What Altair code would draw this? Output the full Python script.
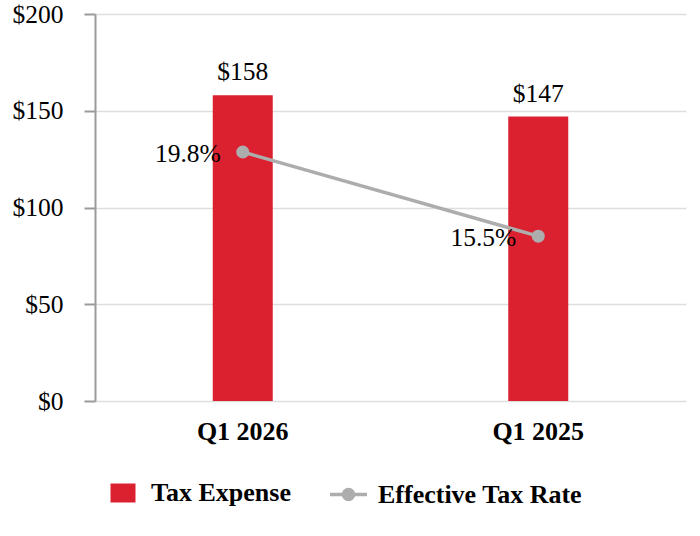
import altair as alt
import pandas as pd

quarters = ["Q1 2026", "Q1 2025"]
tax_expense = [158, 147]
tax_rate = [19.8, 15.5]
series_names = ["Tax Expense", "Effective Tax Rate"]
y_ticks = [0, 50, 100, 150, 200]

RED = "#DB202F"
GRAY = "#ADADAD"
FONT = "Liberation Serif"

df = pd.DataFrame({
    "quarter": quarters,
    "expense": tax_expense,
    "rate": tax_rate,
})
df["expense_label"] = ["$" + format(v, ".0f") for v in tax_expense]
df["rate_label"] = [format(v, ".1f") + "%" for v in tax_rate]

base = alt.Chart(df)

x_enc = alt.X(
    "quarter:N",
    sort=quarters,
    scale=alt.Scale(paddingInner=0, paddingOuter=0),
    axis=alt.Axis(
        title=None, labelAngle=0, ticks=False, domain=False,
        labelFont=FONT, labelFontWeight="bold", labelFontSize=26,
        labelColor="black", labelPadding=17,
    ),
)

y_scale = alt.Scale(domain=[0, 200], nice=False)
rate_scale = alt.Scale(domain=[7.08, 26.85], nice=False, zero=False)

legend_common = dict(
    title=None, orient="none", legendY=466,
    direction="horizontal", padding=0, symbolSize=625,
    labelFont=FONT, labelFontWeight="bold", labelFontSize=26,
    labelColor="black", labelOffset=15, symbolOpacity=1, labelLimit=0,
)

bars = base.transform_calculate(series="'" + series_names[0] + "'").mark_bar(
    size=60
).encode(
    x=x_enc,
    y=alt.Y(
        "expense:Q", scale=y_scale,
        axis=alt.Axis(
            title=None, values=y_ticks, format="$.0f",
            labelFont=FONT, labelFontSize=25.5, labelColor="black",
            labelPadding=21, tickSize=11, tickWidth=2, tickColor="#9A9A9A",
            domainColor="#9A9A9A", domainWidth=2,
            gridColor="#DEDEDE", gridWidth=1.5,
        ),
    ),
    color=alt.Color(
        "series:N",
        scale=alt.Scale(domain=[series_names[0]], range=[RED]),
        legend=alt.Legend(
            legendX=15,
            symbolType="M-1,-0.76H1V0.76H-1Z",
            symbolFillColor=RED, symbolStrokeWidth=0,
            **legend_common,
        ),
    ),
)

bar_text = base.mark_text(
    dy=-15, baseline="alphabetic", font=FONT, fontSize=25.5, color="black"
).encode(
    x=alt.X("quarter:N", sort=quarters),
    y=alt.Y("expense:Q", scale=y_scale, axis=None),
    text="expense_label:N",
)

line = base.transform_calculate(series="'" + series_names[1] + "'").mark_line(
    strokeWidth=3.5,
    point=alt.OverlayMarkDef(size=170, filled=True, opacity=1),
).encode(
    x=alt.X("quarter:N", sort=quarters),
    y=alt.Y("rate:Q", scale=rate_scale, axis=None),
    color=alt.Color(
        "series:N",
        scale=alt.Scale(domain=[series_names[1]], range=[GRAY]),
        legend=alt.Legend(
            legendX=239,
            symbolType=(
                "M-1.48,0H1.48"
                "M-0.4,0A0.4,0.4,0,1,1,0.4,0A0.4,0.4,0,1,1,-0.4,0"
                "M-0.15,0A0.15,0.15,0,1,1,0.15,0A0.15,0.15,0,1,1,-0.15,0"
            ),
            symbolStrokeColor=GRAY, symbolFillColor=GRAY,
            symbolStrokeWidth=3.5,
            **legend_common,
        ),
    ),
)

rate_text = base.mark_text(
    align="right", dx=-22, dy=10, baseline="alphabetic",
    font=FONT, fontSize=25.5, color="black",
).encode(
    x=alt.X("quarter:N", sort=quarters),
    y=alt.Y("rate:Q", scale=rate_scale, axis=None),
    text="rate_label:N",
)

chart = alt.layer(bars, line, bar_text, rate_text).resolve_scale(
    y="independent", color="independent"
).properties(
    width=591, height=387,
    autosize=alt.AutoSizeParams(type="none"),
    padding={"left": 95, "top": 14, "right": 14, "bottom": 135},
).configure_view(stroke=None)

chart.save("out.html", embed_options={"renderer": "svg", "actions": False})
